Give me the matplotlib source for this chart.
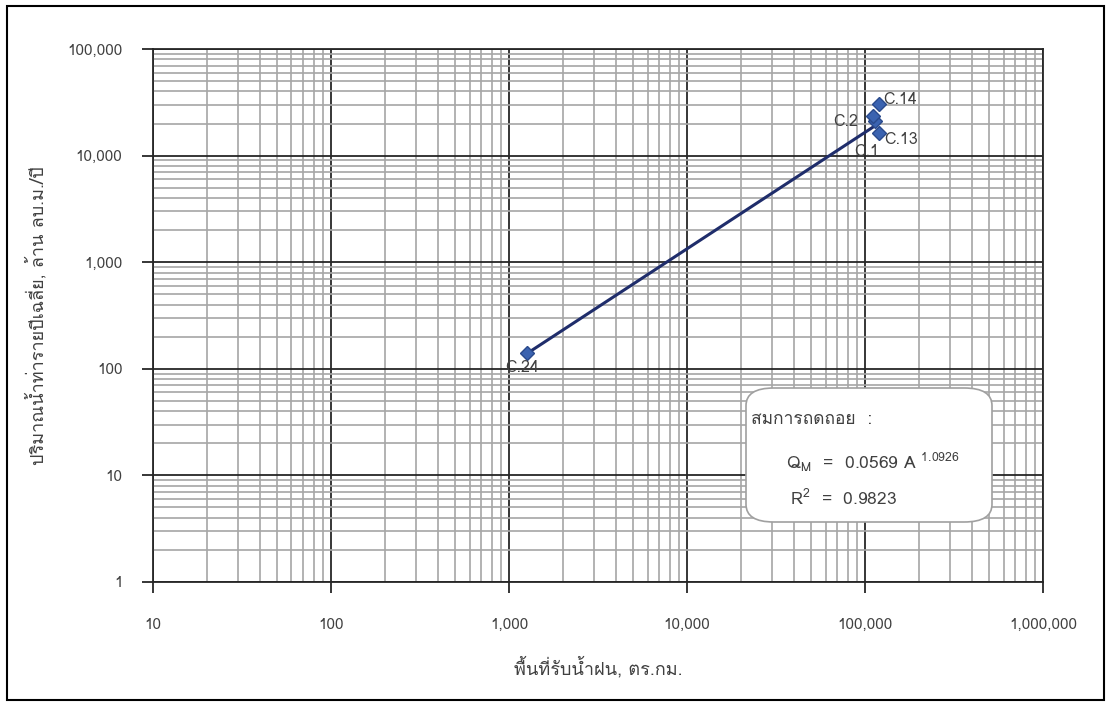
import numpy as np
import matplotlib
matplotlib.use("Agg")
import matplotlib.pyplot as plt
import matplotlib.ticker as ticker
from matplotlib import font_manager
from matplotlib.ft2font import FT2Font
from matplotlib.patches import Rectangle, FancyBboxPatch


# pick an installed font that has Thai glyphs, fall back to DejaVu
def find_thai_font():
    for f in font_manager.fontManager.ttflist:
        try:
            if 0x0E01 in FT2Font(f.fname).get_charmap():
                return f.name
        except Exception:
            pass
    return None


thai = find_thai_font()
families = [thai, "DejaVu Sans"] if thai else ["DejaVu Sans"]
plt.rcParams["font.family"] = families

# ======================================
# DATA
# ======================================
stations = ["C.24", "C.1", "C.2", "C.14", "C.13"]
area_km2 = [1262, 114000, 110900, 119900, 119900]
runoff_mcm = [141, 21000, 23500, 30500, 16300]

# regression Q = a * A^b
coef_a = 0.0569
coef_b = 1.0926
r2 = 0.9823

x_ticks = [10, 100, 1000, 10000, 100000, 1000000]
y_ticks = [1, 10, 100, 1000, 10000, 100000]

xlabel = "พื้นที่รับน้ำฝน, ตร.กม."
ylabel = "ปริมาณน้ำท่ารายปีเฉลี่ย, ล้าน ลบ.ม./ปี"
box_title = "สมการถดถอย  :"

text_color = "#404040"

# ======================================
# FIGURE
# ======================================
fig = plt.figure(figsize=(11.11, 7.04), dpi=100)
ax = fig.add_axes([0.1377, 0.1733, 0.8011, 0.7571])

ax.set_xscale("log")
ax.set_yscale("log")
ax.set_xlim(10, 1e6)
ax.set_ylim(1, 1e5)

# grid: grey minor lines, dark major lines
ax.grid(True, which="minor", color="#a6a6a6", linewidth=1.2)
ax.grid(True, which="major", color="#262626", linewidth=1.3)
ax.set_axisbelow(True)
ax.xaxis.set_minor_locator(ticker.LogLocator(base=10, subs=np.arange(2, 10), numticks=20))
ax.yaxis.set_minor_locator(ticker.LogLocator(base=10, subs=np.arange(2, 10), numticks=20))
ax.xaxis.set_minor_formatter(ticker.NullFormatter())
ax.yaxis.set_minor_formatter(ticker.NullFormatter())

ax.set_xticks(x_ticks)
ax.set_yticks(y_ticks)
ax.set_xticklabels([f"{v:,}" for v in x_ticks])
ax.set_yticklabels([f"{v:,}" for v in y_ticks])
ax.tick_params(axis="both", which="major", direction="out", length=8, width=1.3,
               color="#262626", labelsize=11, labelcolor=text_color)
ax.tick_params(axis="x", which="major", pad=18)
ax.tick_params(axis="y", which="major", pad=14)
ax.tick_params(which="minor", length=0)

for side in ["left", "bottom", "top", "right"]:
    ax.spines[side].set_color("#262626")
    ax.spines[side].set_linewidth(1.3)

# regression line across the observed range
a_line = np.array([min(area_km2), max(area_km2)])
q_line = coef_a * a_line ** coef_b
ax.plot(a_line, q_line, color="#1f2d6b", linewidth=2.2, zorder=3)

# stations
ax.plot(area_km2, runoff_mcm, linestyle="none", marker="D", markersize=7,
        markerfacecolor="#3b63b0", markeredgecolor="#2a4a8c", zorder=4)

offsets = {
    "C.24": (-16, -11, "left"),
    "C.1": (-15, -22, "left"),
    "C.2": (-11, -4, "right"),
    "C.14": (3, 3, "left"),
    "C.13": (4, -5, "left"),
}
for name, a, q in zip(stations, area_km2, runoff_mcm):
    dx, dy, ha = offsets[name]
    ax.annotate(name, (a, q), xytext=(dx, dy), textcoords="offset points",
                ha=ha, va="center", fontsize=11.5, color=text_color, zorder=5)

ax.set_xlabel(xlabel, fontsize=13, color=text_color, labelpad=18)
ax.set_ylabel(ylabel, fontsize=13, color=text_color, labelpad=14)

# equation box
box = FancyBboxPatch((746 / 1111, 1 - 522 / 704), 246 / 1111, 134 / 704,
                     boxstyle="round,pad=0,rounding_size=0.025",
                     transform=fig.transFigure, facecolor="white",
                     edgecolor="#a0a0a0", linewidth=1.2, zorder=10)
fig.patches.append(box)
fig.text(751 / 1111, 1 - 420 / 704, box_title, fontsize=12.5, color=text_color,
         va="center", zorder=11)
fig.text(786 / 1111, 1 - 462 / 704,
         r"Q$_{\mathregular{M}}$  =  %.4f A $^{\mathregular{%.4f}}$" % (coef_a, coef_b),
         fontsize=12.5, color=text_color, va="center", zorder=11)
fig.text(790 / 1111, 1 - 498 / 704,
         r"R$^{\mathregular{2}}$  =  %.4f" % r2,
         fontsize=12.5, color=text_color, va="center", zorder=11)

# outer frame
fig.patches.append(Rectangle((0.006, 0.006), 0.988, 0.986, transform=fig.transFigure,
                             fill=False, edgecolor="black", linewidth=1.5))

fig.savefig("out.png", dpi=100)
